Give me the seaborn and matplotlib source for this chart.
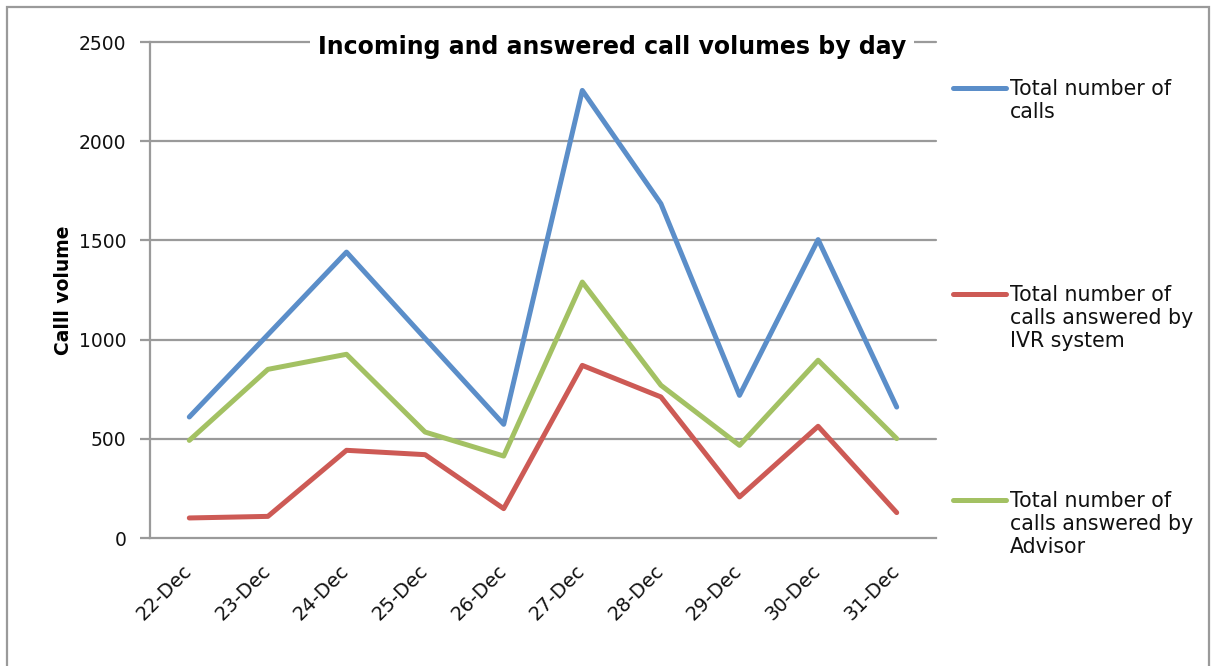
import matplotlib
matplotlib.use("Agg")
import matplotlib.pyplot as plt
import matplotlib.transforms as mtransforms
from matplotlib.lines import Line2D
from matplotlib.patches import Rectangle
import seaborn as sns
import pandas as pd

days = ["22-Dec", "23-Dec", "24-Dec", "25-Dec", "26-Dec",
        "27-Dec", "28-Dec", "29-Dec", "30-Dec", "31-Dec"]
total_calls = [610, 1025, 1441, 1006, 573, 2256, 1685, 719, 1504, 660]
ivr_answered = [101, 109, 442, 420, 148, 870, 711, 207, 563, 128]
advisor_answered = [492, 850, 926, 534, 413, 1290, 770, 467, 896, 501]
series_names = ["Total number of\ncalls",
                "Total number of\ncalls answered by\nIVR system",
                "Total number of\ncalls answered by\nAdvisor"]
yticks = [0, 500, 1000, 1500, 2000, 2500]
colors = ["#5B8EC9", "#CD5A55", "#A3C163"]

sns.set_theme(style="white")
plt.rcParams['font.family'] = ['DejaVu Sans']

rows = []
for name, vals in zip(series_names, [total_calls, ivr_answered, advisor_answered]):
    for i, (d, v) in enumerate(zip(days, vals)):
        rows.append({"day": d, "idx": i, "value": v, "series": name})
df = pd.DataFrame(rows)

W, H = 1214, 666
fig = plt.figure(figsize=(W / 100, H / 100), dpi=100)
ax = fig.add_axes([150 / W, 1 - 538 / H, (936 - 150) / W, (538 - 42) / H])

grid_c = "#9A9A9A"
for y in yticks[1:]:
    ax.axhline(y, color=grid_c, lw=1.6, zorder=1, clip_on=False)

sns.lineplot(data=df, x="idx", y="value", hue="series", palette=colors,
             hue_order=series_names, sort=False, lw=3.6, ax=ax, legend=False,
             zorder=3)
for ln in ax.lines:
    ln.set_solid_capstyle("round")

ax.set_xlim(-0.5, len(days) - 0.5)
ax.set_ylim(0, 2500)
ax.set_yticks(yticks)
ax.set_yticklabels([str(v) for v in yticks], fontsize=13.5, color="#111111")
ax.set_xticks(range(len(days)))
ax.set_xticklabels(days, fontsize=14, rotation=45, ha="right", va="top",
                   rotation_mode="anchor", color="#111111")
ax.set_xticks([i - 0.5 for i in range(len(days) + 1)], minor=True)
ax.tick_params(axis="x", which="major", length=0, pad=17)
ax.tick_params(axis="x", which="minor", length=7, width=1.6, color=grid_c, direction="out")
ax.tick_params(axis="y", length=7, width=1.6, color=grid_c, direction="out", pad=10, left=True)
offset = mtransforms.ScaledTranslation(-7 / 100, 0, fig.dpi_scale_trans)
for lab in ax.get_xticklabels():
    lab.set_transform(lab.get_transform() + offset)

ax.set_xlabel("")
ax.set_ylabel("Calll volume", fontsize=13.5, fontweight="bold", labelpad=4, color="black")

for side in ["top", "right"]:
    ax.spines[side].set_visible(False)
for side in ["left", "bottom"]:
    ax.spines[side].set_visible(True)
    ax.spines[side].set_color(grid_c)
    ax.spines[side].set_linewidth(1.6)

# title with white background covering the top gridline
fig.text(612 / W, 1 - 47 / H, "Incoming and answered call volumes by day",
         ha="center", va="center", fontsize=17, fontweight="bold", color="black",
         bbox=dict(facecolor="white", edgecolor="none", pad=6), zorder=5)

# legend
leg_y = [88, 294, 500]
for name, c, y in zip(series_names, colors, leg_y):
    fig.add_artist(Line2D([953 / W, 1006 / W], [1 - y / H, 1 - y / H],
                          color=c, lw=3.6, solid_capstyle="round"))
    fig.text(1010 / W, 1 - (y - 9) / H, name, ha="left", va="top",
             fontsize=14.8, color="#111111", linespacing=1.2)

# outer frame
fig.add_artist(Rectangle((7 / W, -0.1), (1209 - 7) / W, 1.1 - 7 / H,
                         fill=False, edgecolor="#9A9A9A", lw=1.6,
                         transform=fig.transFigure, clip_on=False))

fig.savefig("out.png", dpi=100)
